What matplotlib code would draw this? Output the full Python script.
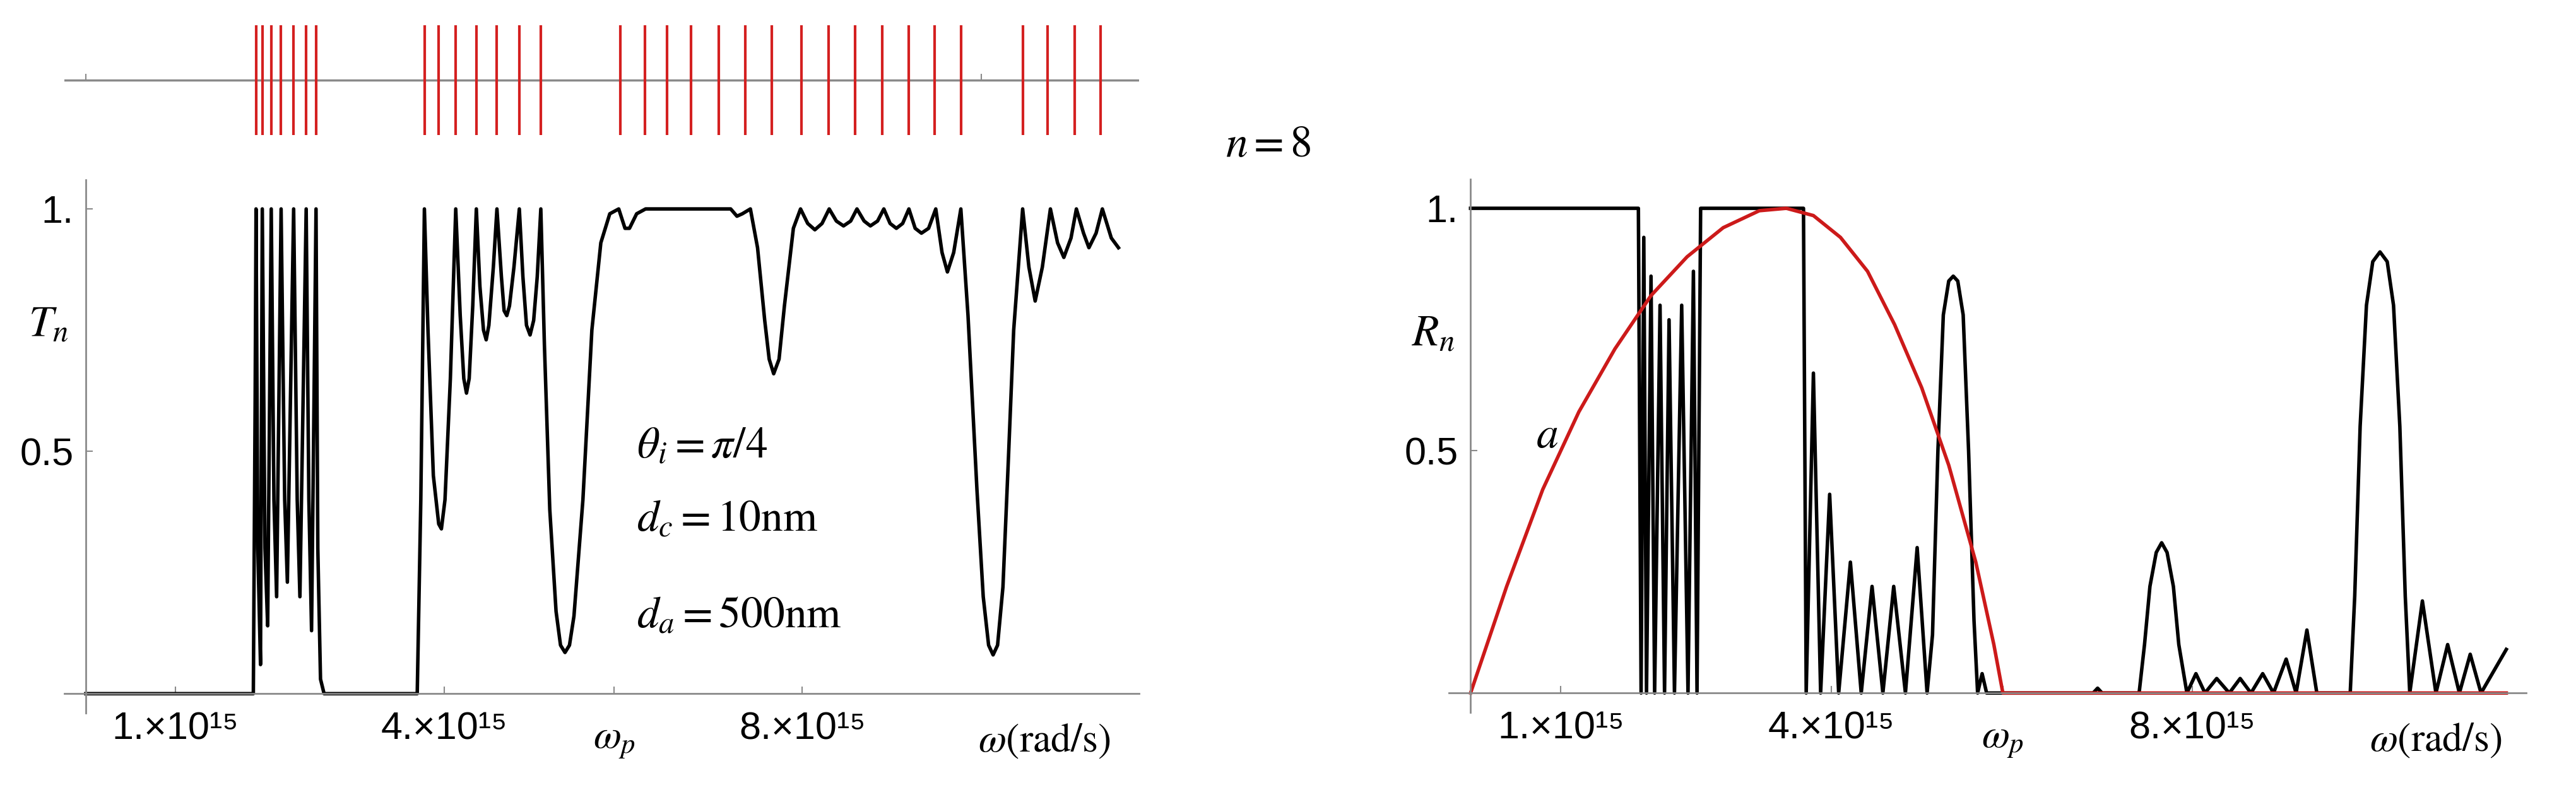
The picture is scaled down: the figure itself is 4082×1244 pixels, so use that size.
import matplotlib
matplotlib.use('Agg')
import matplotlib.pyplot as plt

plt.rcParams['mathtext.fontset'] = 'stix'
plt.rcParams['font.family'] = ['Liberation Sans Narrow', 'Liberation Sans', 'DejaVu Sans']

W, H = 4082, 1244
GRAY = '#8a8a8a'
OMEGA_P = 5.9

# transmission T_n(omega), omega in units of 1e15 rad/s
t_omega = [0, 1.87, 1.89, 1.90, 1.92, 1.95, 1.97, 2.00, 2.03, 2.07, 2.10, 2.13, 2.18, 2.22, 2.25,
           2.32, 2.36, 2.39, 2.46, 2.49, 2.52, 2.57, 2.59, 2.62, 2.66, 3.70, 3.74, 3.78, 3.82, 3.88,
           3.94, 3.97, 4.01, 4.07, 4.13, 4.18, 4.22, 4.25, 4.28, 4.32, 4.36, 4.40, 4.44, 4.47, 4.50,
           4.55, 4.59, 4.64, 4.67, 4.70, 4.73, 4.78, 4.84, 4.88, 4.92, 4.96, 5.00, 5.04, 5.08, 5.12,
           5.18, 5.25, 5.30, 5.35, 5.40, 5.45, 5.55, 5.65, 5.75, 5.85, 5.95, 6.02, 6.07, 6.15, 6.25,
           7.20, 7.27, 7.33, 7.42, 7.50, 7.58, 7.63, 7.68, 7.74, 7.80, 7.90, 7.98, 8.06, 8.14, 8.22,
           8.30, 8.38, 8.46, 8.54, 8.61, 8.69, 8.76, 8.84, 8.91, 8.98, 9.05, 9.12, 9.19, 9.26, 9.33,
           9.41, 9.49, 9.56, 9.62, 9.69, 9.77, 9.85, 9.95, 10.02, 10.08, 10.13, 10.18, 10.24, 10.30,
           10.36, 10.46, 10.53, 10.60, 10.68, 10.77, 10.85, 10.92, 11.00, 11.06, 11.14, 11.20, 11.28,
           11.35, 11.45, 11.53]
t_vals = [0, 0, 0.6, 1.0, 0.3, 0.06, 1.0, 0.3, 0.14, 1.0, 0.4, 0.2, 1.0, 0.4, 0.23,
          1.0, 0.4, 0.2, 1.0, 0.4, 0.13, 1.0, 0.3, 0.03, 0, 0, 0.4, 1.0, 0.75, 0.45,
          0.35, 0.34, 0.4, 0.65, 1.0, 0.78, 0.65, 0.62, 0.65, 0.8, 1.0, 0.84, 0.75, 0.73, 0.76,
          0.88, 1.0, 0.86, 0.79, 0.78, 0.8, 0.88, 1.0, 0.86, 0.76, 0.74, 0.77, 0.86, 1.0, 0.72,
          0.38, 0.17, 0.1, 0.085, 0.1, 0.16, 0.4, 0.75, 0.93, 0.99, 1.0, 0.96, 0.96, 0.99, 1.0,
          1.0, 0.985, 0.99, 1.0, 0.92, 0.77, 0.69, 0.66, 0.69, 0.8, 0.96, 1.0, 0.97, 0.957, 0.97,
          1.0, 0.975, 0.965, 0.975, 1.0, 0.975, 0.965, 0.975, 1.0, 0.97, 0.96, 0.97, 1.0, 0.96, 0.95,
          0.96, 1.0, 0.91, 0.87, 0.91, 1.0, 0.78, 0.42, 0.2, 0.1, 0.08, 0.1, 0.22, 0.48,
          0.75, 1.0, 0.88, 0.81, 0.88, 1.0, 0.93, 0.90, 0.94, 1.0, 0.95, 0.92, 0.95,
          1.0, 0.94, 0.92]

# reflection R_n(omega)
r_omega = [0, 1.86, 1.89, 1.92, 1.95, 2.00, 2.04, 2.10, 2.15, 2.20, 2.26, 2.34, 2.41, 2.47, 2.51,
           2.55, 3.69, 3.72, 3.80, 3.88, 3.98, 4.08, 4.21, 4.33, 4.45, 4.57, 4.69, 4.82, 4.95, 5.06,
           5.12, 5.18, 5.24, 5.30, 5.35, 5.40, 5.46, 5.52, 5.58, 5.62, 5.67, 5.72, 5.77, 5.80,
           6.90, 6.95, 7.00, 7.41, 7.47, 7.53, 7.60, 7.66, 7.72, 7.79, 7.85, 7.94, 8.04, 8.14, 8.27,
           8.41, 8.53, 8.65, 8.78, 8.90, 9.04, 9.15, 9.27, 9.38,
           9.75, 9.80, 9.86, 9.93, 10.00, 10.08, 10.16, 10.23, 10.30, 10.36, 10.41, 10.55, 10.70,
           10.83, 10.96, 11.08, 11.20, 11.48]
r_vals = [1, 1, 0, 0.94, 0, 0.86, 0, 0.80, 0, 0.77, 0, 0.80, 0, 0.87, 0,
          1, 1, 0, 0.66, 0, 0.41, 0, 0.27, 0, 0.22, 0, 0.22, 0, 0.30, 0,
          0.12, 0.5, 0.78, 0.85, 0.86, 0.85, 0.78, 0.5, 0.15, 0, 0.04, 0, 0, 0,
          0, 0.01, 0, 0, 0.1, 0.22, 0.29, 0.31, 0.29, 0.22, 0.1, 0, 0.04, 0, 0.03,
          0, 0.03, 0, 0.04, 0, 0.07, 0, 0.13, 0,
          0, 0.2, 0.55, 0.8, 0.89, 0.91, 0.89, 0.8, 0.55, 0.2, 0, 0.19, 0,
          0.10, 0, 0.08, 0, 0.09]

# absorption a(omega)
a_omega = [0, 0.4, 0.8, 1.2, 1.6, 2.0, 2.4, 2.8, 3.2, 3.5, 3.8, 4.1, 4.4, 4.7, 5.0, 5.3,
           5.6, 5.8, 5.9, 11.48]
a_vals = [0, 0.22, 0.42, 0.58, 0.71, 0.82, 0.9, 0.96, 0.995, 1.0, 0.985, 0.94, 0.87, 0.76,
          0.63, 0.47, 0.27, 0.1, 0, 0]

# transmission resonances (top strip)
res_omega = [1.90, 1.97, 2.07, 2.18, 2.32, 2.46, 2.57,
             3.78, 3.94, 4.13, 4.36, 4.59, 4.84, 5.08,
             5.97, 6.24, 6.49, 6.76, 7.07, 7.36, 7.66,
             7.99, 8.29, 8.59, 8.89, 9.19, 9.48, 9.77,
             10.46, 10.74, 11.04, 11.33]

xtick_pos = [1, 4, 8]
xtick_lab = ['1.×10¹⁵', '4.×10¹⁵', '8.×10¹⁵']


def box(x0, y0, x1, y1):
    return [x0 / W, 1 - y1 / H, (x1 - x0) / W, (y1 - y0) / H]


fig = plt.figure(figsize=(W / 100, H / 100), dpi=100)


def style(ax, x0, x1):
    ax.set_xlim(x0, x1)
    ax.set_ylim(-0.04, 1.06)
    for s in ['top', 'right']:
        ax.spines[s].set_visible(False)
    for s in ['left', 'bottom']:
        ax.spines[s].set_color(GRAY)
        ax.spines[s].set_linewidth(2)
    ax.spines['left'].set_position(('data', 0))
    ax.spines['bottom'].set_position(('data', 0))
    ax.set_xticks(xtick_pos + [OMEGA_P])
    ax.set_xticklabels(xtick_lab + [''])
    ax.set_yticks([0.5, 1.0])
    ax.set_yticklabels(['0.5', '1.'])
    ax.tick_params(direction='in', length=8, width=1.5, color=GRAY, labelsize=44, pad=20)
    ax.tick_params(axis='y', pad=14)
    ax.text(OMEGA_P, -0.06, r'$\omega_p$', fontsize=46, ha='center', va='top')
    ax.text(10.7, -0.06, r'$\omega(\mathrm{rad/s})$', fontsize=46, ha='center', va='top')


# top strip
axs = fig.add_axes(box(102, 40, 1805, 214))
axs.set_xlim(-0.24, 11.76)
axs.set_ylim(-1, 1)
axs.axis('off')
axs.axhline(0, color=GRAY, lw=2.5)
axs.vlines([0, 10], 0, 0.12, color=GRAY, lw=1.5)
axs.vlines(res_omega, -1, 1, color='#d42020', lw=3)

# left panel
ax1 = fig.add_axes(box(102, 285, 1805, 1130))
style(ax1, -0.24, 11.76)
ax1.plot(t_omega, t_vals, color='black', lw=4, solid_joinstyle='round')
fig.text(77 / W, 1 - 514 / H, r'$T_n$', fontsize=50, ha='center', va='center')
ax1.text(6.15, 0.51, r'$\theta_i = \pi/4$', fontsize=50, ha='left', va='center')
ax1.text(6.15, 0.36, r'$d_c = 10\mathrm{nm}$', fontsize=50, ha='left', va='center')
ax1.text(6.15, 0.16, r'$d_a = 500\mathrm{nm}$', fontsize=50, ha='left', va='center')
fig.text(2010 / W, 1 - 230 / H, r'$n = 8$', fontsize=50, ha='center', va='center')

# right panel
ax2 = fig.add_axes(box(2296, 284, 4003, 1129))
style(ax2, -0.24, 11.7)
ax2.plot(r_omega, r_vals, color='black', lw=4, solid_joinstyle='round')
ax2.plot(a_omega, a_vals, color='#cc1a1a', lw=4)
ax2.text(0.85, 0.53, r'$a$', fontsize=50, ha='center', va='center')
fig.text(2271 / W, 1 - 529 / H, r'$R_n$', fontsize=50, ha='center', va='center')

fig.savefig('out.png', dpi=100, facecolor='white')
